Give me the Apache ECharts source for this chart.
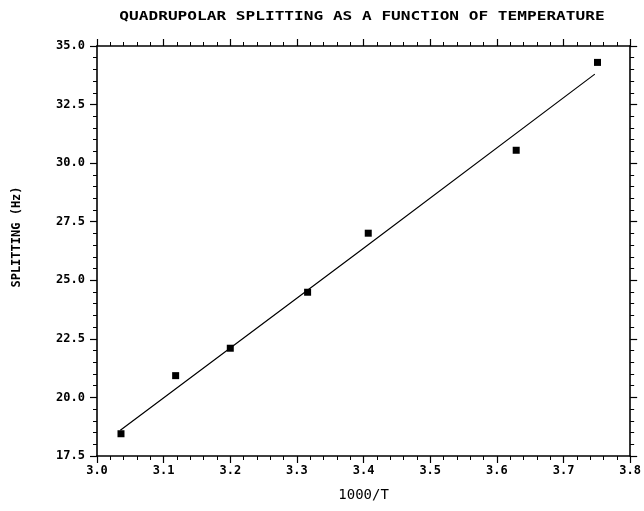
<!DOCTYPE html>
<html>
<head>
<meta charset="utf-8">
<script src="https://cdn.jsdelivr.net/npm/echarts@6/dist/echarts.min.js"></script>
<style>
  html, body { margin: 0; padding: 0; background: #fff; }
  #chart { width: 644px; height: 511px; }
</style>
</head>
<body>
<div id="chart"></div>
<script>
// 测量点 (1000/T, splitting Hz)
var pointX = [3.036, 3.118, 3.200, 3.316, 3.407, 3.629, 3.751];
var pointY = [18.45, 20.93, 22.10, 24.49, 27.01, 30.55, 34.30];
// 拟合线
var fitX = [3.035, 3.390, 3.747];
var fitY = [18.60, 26.15, 33.80];

var titleText = "QUADRUPOLAR SPLITTING AS A FUNCTION OF TEMPERATURE";
var xName = "1000/T";
var yName = "SPLITTING (Hz)";

var ink = "#000";
var mono = "DejaVu Sans Mono";

var chart = echarts.init(document.getElementById("chart"));

function xAxisCfg(pos, labels) {
  return {
    type: "value",
    position: pos,
    min: 3.0,
    max: 3.8,
    interval: 0.1,
    axisLine: { show: true, onZero: false, lineStyle: { color: ink, width: 1.6 } },
    axisTick: { show: true, inside: false, length: 7, lineStyle: { color: ink, width: 1.2 } },
    minorTick: { show: true, splitNumber: 5, length: 4, lineStyle: { color: ink, width: 1 } },
    splitLine: { show: false },
    axisLabel: {
      show: labels,
      margin: 9,
      color: ink,
      fontFamily: mono,
      fontWeight: "bold",
      fontSize: 12,
      formatter: function (v) { return v.toFixed(1); }
    }
  };
}

function yAxisCfg(pos, labels) {
  return {
    type: "value",
    position: pos,
    min: 17.5,
    max: 35,
    interval: 2.5,
    axisLine: { show: true, onZero: false, lineStyle: { color: ink, width: 1.6 } },
    axisTick: { show: true, inside: false, length: 7, lineStyle: { color: ink, width: 1.2 } },
    minorTick: { show: true, splitNumber: 5, length: 4, lineStyle: { color: ink, width: 1 } },
    splitLine: { show: false },
    axisLabel: {
      show: labels,
      margin: 12,
      color: ink,
      fontFamily: mono,
      fontWeight: "bold",
      fontSize: 12,
      formatter: function (v) { return v.toFixed(1); }
    }
  };
}

var bottomX = xAxisCfg("bottom", true);
bottomX.name = xName;
bottomX.nameLocation = "middle";
bottomX.nameGap = 32;
bottomX.nameTextStyle = { color: ink, fontFamily: mono, fontSize: 14 };

var option = {
  backgroundColor: "#fff",
  animation: false,
  grid: { left: 97, right: 10, top: 46, bottom: 55, containLabel: false },
  xAxis: [bottomX, xAxisCfg("top", false)],
  yAxis: [yAxisCfg("left", true), yAxisCfg("right", false)],
  graphic: [
    {
      type: "text",
      x: 362,
      y: 17,
      scaleX: 1.24,
      style: {
        text: titleText,
        fill: ink,
        font: "bold 13px '" + mono + "'",
        textAlign: "center",
        textVerticalAlign: "middle"
      }
    },
    {
      type: "text",
      x: 17,
      y: 237,
      rotation: Math.PI / 2,
      style: {
        text: yName,
        fill: ink,
        font: "bold 12px '" + mono + "'",
        textAlign: "center",
        textVerticalAlign: "middle"
      }
    }
  ],
  series: [
    {
      name: "fit",
      type: "line",
      xAxisIndex: 0,
      yAxisIndex: 0,
      showSymbol: false,
      lineStyle: { color: ink, width: 1.2 },
      data: fitX.map(function (x, i) { return [x, fitY[i]]; })
    },
    {
      name: "data",
      type: "scatter",
      xAxisIndex: 0,
      yAxisIndex: 0,
      symbol: "rect",
      symbolSize: 7,
      itemStyle: { color: ink, opacity: 1 },
      data: pointX.map(function (x, i) { return [x, pointY[i]]; })
    }
  ]
};

chart.setOption(option);
</script>
</body>
</html>
